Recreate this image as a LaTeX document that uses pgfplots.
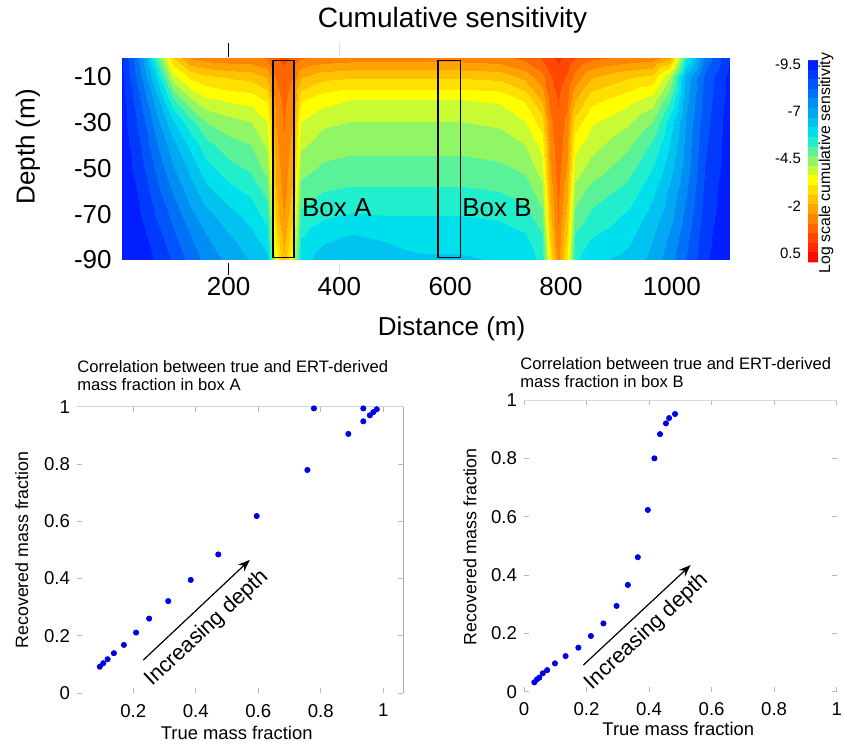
\documentclass[border=0pt]{standalone}
\usepackage{fontspec}
\setmainfont{Liberation Sans}
\usepackage{pgfplots}
\pgfplotsset{compat=1.18}
\usetikzlibrary{arrows.meta}

\pgfplotsset{
  /pgf/number format/assume math mode=true,
  /pgf/number format/1000 sep={},
  scatterpanel/.style={
    scale only axis,
    ymin=0, ymax=1,
    ytick={0,0.2,0.4,0.6,0.8,1},
    axis line style={draw=none},
    tick style={gray!55, thin},
    major tick length=2.5pt,
    tick label style={font=\fontsize{9.3}{11}\selectfont},
    xticklabel style={yshift=-2pt},
    clip=false,
  },
}
\newcommand\fs[1]{\fontsize{#1}{#1}\selectfont}

\begin{document}
\begin{tikzpicture}
\path[use as bounding box] (0,0) rectangle (421.5pt,373pt);

% ---- top panel: cumulative sensitivity
\begin{axis}[
  at={(60.85pt,243pt)}, anchor=south west,
  scale only axis, width=304.15pt, height=100.85pt,
  view={0}{90},
  xmin=7, xmax=1105, ymin=-90, ymax=-2,
  xtick={200,400,600,800,1000}, ytick={-90,-70,-50,-30,-10},
  axis line style={draw=none},
  major tick length=0pt,
  tick label style={font=\fs{13}},
  xticklabel style={yshift=-5pt},
  yticklabel style={xshift=-1.5pt},
  point meta min=-9.7, point meta max=1.0,
  colormap={sens}{rgb255(0cm)=(0,30,255); rgb255(37cm)=(0,235,235);
    rgb255(60cm)=(255,255,0); rgb255(100cm)=(255,10,0)},
  colorbar sampled,
  colorbar style={
    samples=22,
    at={(parent axis.south east)}, anchor=south west,
    xshift=30.5pt, yshift=-1.2pt,
    scale only axis, width=5pt, height=101pt,
    y dir=reverse,
    ytick={-9.5,-7,-4.5,-2,0.5},
    ytick pos=left, yticklabel pos=left,
    major tick length=0pt,
    axis line style={draw=none},
    yticklabel style={font=\fs{7.5}},
  },
  clip=false,
]
\addplot3[contour filled={number=21}] coordinates {
(7,-2,-9.2) (40,-2,-7.5) (70,-2,-5.0) (100,-2,-2.6) (130,-2,-1.5) (160,-2,-1.3) (200,-2,-1.2) (240,-2,-1.2) (270,-2,-1.0) (285,-2,-0.6) (300,-2,-0.4) (315,-2,-0.6) (330,-2,-1.0) (370,-2,-1.2) (420,-2,-1.3) (480,-2,-1.3) (550,-2,-1.3) (620,-2,-1.3) (690,-2,-1.2) (735,-2,-0.9) (765,-2,-0.5) (780,-2,-0.2) (795,-2,0.1) (810,-2,-0.2) (825,-2,-0.5) (855,-2,-0.9) (920,-2,-1.2) (965,-2,-1.3) (995,-2,-1.8) (1025,-2,-5.5) (1060,-2,-7.8) (1105,-2,-9.2)

(7,-10,-9.3) (40,-10,-7.8) (70,-10,-6.0) (100,-10,-3.8) (130,-10,-3.0) (160,-10,-2.7) (200,-10,-2.5) (240,-10,-2.4) (270,-10,-2.0) (285,-10,-1.0) (300,-10,-0.7) (315,-10,-1.0) (330,-10,-2.0) (370,-10,-2.4) (420,-10,-2.5) (480,-10,-2.5) (550,-10,-2.5) (620,-10,-2.5) (690,-10,-2.4) (735,-10,-1.9) (765,-10,-1.2) (780,-10,-0.6) (795,-10,-0.3) (810,-10,-0.6) (825,-10,-1.2) (855,-10,-2.0) (920,-10,-2.5) (965,-10,-2.7) (995,-10,-4.0) (1025,-10,-6.8) (1060,-10,-8.3) (1105,-10,-9.4)

(7,-20,-9.4) (40,-20,-8.2) (70,-20,-6.8) (100,-20,-5.2) (130,-20,-4.2) (160,-20,-3.7) (200,-20,-3.5) (240,-20,-3.4) (270,-20,-3.0) (285,-20,-1.3) (300,-20,-0.9) (315,-20,-1.3) (330,-20,-3.0) (370,-20,-3.4) (420,-20,-3.6) (480,-20,-3.6) (550,-20,-3.6) (620,-20,-3.6) (690,-20,-3.5) (735,-20,-3.0) (765,-20,-2.0) (780,-20,-0.9) (795,-20,-0.5) (810,-20,-0.9) (825,-20,-2.0) (855,-20,-2.9) (920,-20,-3.4) (965,-20,-3.8) (995,-20,-5.0) (1025,-20,-7.0) (1060,-20,-8.4) (1105,-20,-9.4)

(7,-30,-9.4) (40,-30,-8.5) (70,-30,-7.3) (100,-30,-6.2) (130,-30,-5.3) (160,-30,-4.6) (200,-30,-4.3) (240,-30,-4.1) (270,-30,-3.6) (285,-30,-1.5) (300,-30,-1.0) (315,-30,-1.5) (330,-30,-3.6) (370,-30,-4.0) (420,-30,-4.1) (480,-30,-4.1) (550,-30,-4.1) (620,-30,-4.1) (690,-30,-4.0) (735,-30,-3.6) (765,-30,-2.8) (780,-30,-1.2) (795,-30,-0.6) (810,-30,-1.2) (825,-30,-2.8) (855,-30,-3.5) (920,-30,-4.0) (965,-30,-4.6) (995,-30,-5.8) (1025,-30,-7.2) (1060,-30,-8.5) (1105,-30,-9.5)

(7,-40,-9.5) (40,-40,-8.7) (70,-40,-7.7) (100,-40,-6.8) (130,-40,-6.0) (160,-40,-5.3) (200,-40,-4.8) (240,-40,-4.6) (270,-40,-4.0) (285,-40,-1.7) (300,-40,-1.1) (315,-40,-1.7) (330,-40,-4.0) (370,-40,-4.35) (420,-40,-4.45) (480,-40,-4.45) (550,-40,-4.45) (620,-40,-4.45) (690,-40,-4.35) (735,-40,-4.1) (765,-40,-3.4) (780,-40,-1.4) (795,-40,-0.7) (810,-40,-1.4) (825,-40,-3.4) (855,-40,-3.9) (920,-40,-4.5) (965,-40,-5.2) (995,-40,-6.1) (1025,-40,-7.3) (1060,-40,-8.6) (1105,-40,-9.5)

(7,-50,-9.5) (40,-50,-8.9) (70,-50,-8.0) (100,-50,-7.2) (130,-50,-6.5) (160,-50,-5.8) (200,-50,-5.3) (240,-50,-5.0) (270,-50,-4.4) (285,-50,-1.9) (300,-50,-1.2) (315,-50,-1.9) (330,-50,-4.4) (370,-50,-4.7) (420,-50,-4.8) (480,-50,-4.8) (550,-50,-4.8) (620,-50,-4.8) (690,-50,-4.7) (735,-50,-4.5) (765,-50,-3.8) (780,-50,-1.6) (795,-50,-0.8) (810,-50,-1.6) (825,-50,-3.8) (855,-50,-4.3) (920,-50,-4.9) (965,-50,-5.6) (995,-50,-6.4) (1025,-50,-7.4) (1060,-50,-8.7) (1105,-50,-9.5)

(7,-60,-9.6) (40,-60,-9.1) (70,-60,-8.3) (100,-60,-7.6) (130,-60,-6.9) (160,-60,-6.3) (200,-60,-5.8) (240,-60,-5.5) (270,-60,-4.9) (285,-60,-2.1) (300,-60,-1.3) (315,-60,-2.1) (330,-60,-4.8) (370,-60,-5.1) (420,-60,-5.2) (480,-60,-5.2) (550,-60,-5.2) (620,-60,-5.2) (690,-60,-5.1) (735,-60,-4.9) (765,-60,-4.3) (780,-60,-1.9) (795,-60,-0.9) (810,-60,-1.9) (825,-60,-4.3) (855,-60,-4.8) (920,-60,-5.3) (965,-60,-6.0) (995,-60,-6.7) (1025,-60,-7.6) (1060,-60,-8.8) (1105,-60,-9.6)

(7,-70,-9.6) (40,-70,-9.2) (70,-70,-8.6) (100,-70,-8.0) (130,-70,-7.3) (160,-70,-6.8) (200,-70,-6.3) (240,-70,-5.9) (270,-70,-5.4) (285,-70,-2.4) (300,-70,-1.5) (315,-70,-2.4) (330,-70,-5.2) (370,-70,-5.5) (420,-70,-5.65) (480,-70,-5.6) (550,-70,-5.6) (620,-70,-5.6) (690,-70,-5.5) (735,-70,-5.3) (765,-70,-4.7) (780,-70,-2.2) (795,-70,-1.0) (810,-70,-2.2) (825,-70,-4.7) (855,-70,-5.2) (920,-70,-5.7) (965,-70,-6.3) (995,-70,-6.9) (1025,-70,-7.8) (1060,-70,-8.9) (1105,-70,-9.6)

(7,-80,-9.7) (40,-80,-9.4) (70,-80,-8.9) (100,-80,-8.3) (130,-80,-7.7) (160,-80,-7.2) (200,-80,-6.7) (240,-80,-6.3) (270,-80,-5.8) (285,-80,-2.9) (300,-80,-1.8) (315,-80,-2.9) (330,-80,-5.6) (370,-80,-6.0) (420,-80,-6.2) (480,-80,-6.05) (550,-80,-5.95) (620,-80,-5.95) (690,-80,-5.9) (735,-80,-5.7) (765,-80,-5.2) (780,-80,-2.6) (795,-80,-1.1) (810,-80,-2.6) (825,-80,-5.2) (855,-80,-5.6) (920,-80,-6.0) (965,-80,-6.6) (995,-80,-7.2) (1025,-80,-8.0) (1060,-80,-9.0) (1105,-80,-9.7)

(7,-90,-9.7) (40,-90,-9.5) (70,-90,-9.1) (100,-90,-8.6) (130,-90,-8.0) (160,-90,-7.5) (200,-90,-7.0) (240,-90,-6.6) (270,-90,-6.3) (285,-90,-3.4) (300,-90,-2.2) (315,-90,-3.4) (330,-90,-5.9) (370,-90,-6.4) (420,-90,-6.6) (480,-90,-6.5) (550,-90,-6.2) (620,-90,-6.2) (690,-90,-6.1) (735,-90,-5.9) (765,-90,-5.5) (780,-90,-3.0) (795,-90,-1.3) (810,-90,-3.0) (825,-90,-5.5) (855,-90,-6.0) (920,-90,-6.3) (965,-90,-6.8) (995,-90,-7.4) (1025,-90,-8.2) (1060,-90,-9.1) (1105,-90,-9.7)
};
\draw[line width=0.6pt] (axis cs:280,-89,0.5) rectangle (axis cs:318,-3,0.5);
\draw[line width=0.6pt] (axis cs:578,-89,0.5) rectangle (axis cs:618,-3,0.5);
\node[anchor=west, inner sep=0, font=\fs{13}] at (axis cs:332,-67,0.5) {Box A};
\node[anchor=west, inner sep=0, font=\fs{13}] at (axis cs:621,-67,0.5) {Box B};
\draw[line width=0.5pt] (axis cs:200,-1.4,0.5) -- (axis cs:200,4.7,0.5);
\draw[line width=0.5pt] (axis cs:200,-91.3,0.5) -- (axis cs:200,-96.5,0.5);
\draw[gray!25, line width=0.5pt] (axis cs:400,-1.4,0.5) -- (axis cs:400,4.7,0.5);
\draw[gray!25, line width=0.5pt] (axis cs:400,-91.3,0.5) -- (axis cs:400,-96.5,0.5);
\end{axis}

\node[font=\fs{14}] at (226.25pt,363pt) {Cumulative sensitivity};
\node[rotate=90, font=\fs{13}] at (14pt,299.6pt) {Depth (m)};
\node[font=\fs{13}] at (225.8pt,208.5pt) {Distance (m)};
\node[rotate=90, font=\fs{7.9}] at (413pt,291.5pt) {Log scale cumulative sensitivity};

% ---- bottom left: box A
\begin{axis}[scatterpanel,
  at={(38.5pt,26.5pt)}, anchor=south west,
  width=163pt, height=143.15pt,
  xmin=0.02, xmax=1.063,
  xtick={0.2,0.4,0.6,0.8,1},
]
\draw[gray!35] (rel axis cs:0,1) -- (rel axis cs:1,1);
\draw[gray!65] (rel axis cs:1,1) -- (rel axis cs:1,0);
\addplot[only marks, mark=*, mark size=1.3pt, color=blue!90!black] coordinates {
(0.093,0.092) (0.104,0.104) (0.118,0.118) (0.138,0.139) (0.170,0.168)
(0.209,0.211) (0.251,0.260) (0.312,0.321) (0.384,0.395) (0.472,0.484)
(0.595,0.618) (0.757,0.779) (0.778,0.994) (0.888,0.905) (0.936,0.949)
(0.936,0.994) (0.957,0.970) (0.968,0.981) (0.979,0.991)
};
\draw[-{Stealth[length=6pt,width=4.5pt]}, line width=0.6pt] (axis cs:0.232,0.115) -- (axis cs:0.573,0.465);
\node[rotate=43, font=\fs{10.8}] at (axis cs:0.435,0.226) {Increasing depth};
\end{axis}
\node[anchor=base west, inner sep=0, font=\fs{8.3}] at (38.5pt,186.65pt) {Correlation between true and ERT-derived};
\node[anchor=base west, inner sep=0, font=\fs{8.3}] at (38.5pt,177.5pt) {mass fraction in box A};
\node[rotate=90, font=\fs{8.9}] at (10.85pt,98pt) {Recovered mass fraction};
\node[font=\fs{9.2}] at (118.35pt,6.5pt) {True mass fraction};

% ---- bottom right: box B
\begin{axis}[scatterpanel,
  at={(262pt,27.15pt)}, anchor=south west,
  width=156.35pt, height=145.85pt,
  xmin=0, xmax=1,
  xtick={0,0.2,0.4,0.6,0.8,1},
]
\draw[gray!30] (rel axis cs:0,1) -- (rel axis cs:1,1);
\addplot[only marks, mark=*, mark size=1.3pt, color=blue!90!black] coordinates {
(0.033,0.032) (0.041,0.042) (0.049,0.048) (0.060,0.063) (0.074,0.074)
(0.099,0.097) (0.133,0.122) (0.174,0.151) (0.214,0.191) (0.254,0.234)
(0.296,0.294) (0.332,0.366) (0.364,0.461) (0.396,0.623) (0.417,0.800)
(0.435,0.883) (0.454,0.920) (0.464,0.938) (0.483,0.952)
};
\draw[-{Stealth[length=6pt,width=4.5pt]}, line width=0.6pt] (axis cs:0.190,0.0915) -- (axis cs:0.533,0.434);
\node[rotate=43, font=\fs{10.8}] at (axis cs:0.392,0.206) {Increasing depth};
\end{axis}
\node[anchor=base west, inner sep=0, font=\fs{8.3}] at (260pt,188.35pt) {Correlation between true and ERT-derived};
\node[anchor=base west, inner sep=0, font=\fs{8.3}] at (260pt,179.15pt) {mass fraction in box B};
\node[rotate=90, font=\fs{8.9}] at (235pt,99.65pt) {Recovered mass fraction};
\node[font=\fs{9.2}] at (339.15pt,8.35pt) {True mass fraction};
\end{tikzpicture}
\end{document}
